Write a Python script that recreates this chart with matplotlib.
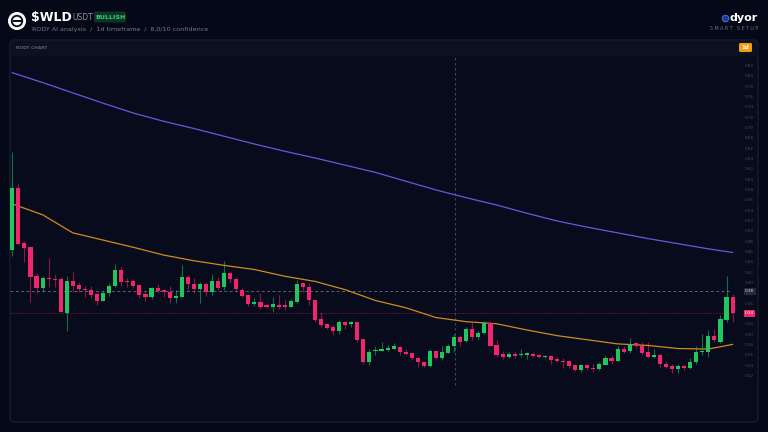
import numpy as np
import matplotlib.pyplot as plt
from matplotlib.patches import FancyBboxPatch, Circle, Rectangle

# ---- data (daily candles, WLD/USDT) ----
opens = [0.464, 0.583, 0.477, 0.469, 0.413, 0.390, 0.410, 0.408, 0.407, 0.342,
         0.404, 0.396, 0.389, 0.387, 0.379, 0.366, 0.380, 0.394, 0.426, 0.404,
         0.403, 0.396, 0.379, 0.373, 0.390, 0.386, 0.382, 0.371, 0.373, 0.412,
         0.398, 0.388, 0.398, 0.382, 0.403, 0.392, 0.419, 0.408, 0.387, 0.376,
         0.359, 0.363, 0.357, 0.354, 0.357, 0.356, 0.354, 0.363, 0.399, 0.393,
         0.367, 0.330, 0.321, 0.315, 0.306, 0.324, 0.320, 0.324, 0.291, 0.247,
         0.268, 0.269, 0.270, 0.273, 0.276, 0.266, 0.264, 0.255, 0.246, 0.240,
         0.269, 0.254, 0.265, 0.277, 0.296, 0.287, 0.310, 0.295, 0.303, 0.323,
         0.279, 0.262, 0.256, 0.263, 0.260, 0.261, 0.263, 0.261, 0.256, 0.259,
         0.253, 0.249, 0.248, 0.241, 0.231, 0.241, 0.235, 0.234, 0.242, 0.255,
         0.249, 0.272, 0.268, 0.283, 0.277, 0.266, 0.257, 0.261, 0.244, 0.239,
         0.233, 0.240, 0.235, 0.246, 0.266, 0.267, 0.298, 0.286, 0.328, 0.373]
highs = [0.653, 0.594, 0.481, 0.470, 0.419, 0.413, 0.449, 0.417, 0.412, 0.413,
         0.422, 0.402, 0.394, 0.394, 0.383, 0.384, 0.399, 0.437, 0.431, 0.409,
         0.407, 0.398, 0.383, 0.393, 0.398, 0.389, 0.394, 0.386, 0.435, 0.415,
         0.409, 0.402, 0.402, 0.417, 0.411, 0.443, 0.422, 0.411, 0.390, 0.379,
         0.371, 0.380, 0.361, 0.373, 0.377, 0.367, 0.368, 0.406, 0.402, 0.399,
         0.367, 0.343, 0.323, 0.319, 0.328, 0.327, 0.327, 0.324, 0.293, 0.272,
         0.277, 0.286, 0.280, 0.283, 0.278, 0.273, 0.265, 0.257, 0.248, 0.273,
         0.270, 0.277, 0.282, 0.301, 0.299, 0.314, 0.325, 0.306, 0.326, 0.325,
         0.290, 0.269, 0.267, 0.267, 0.272, 0.267, 0.267, 0.262, 0.261, 0.261,
         0.256, 0.254, 0.251, 0.243, 0.243, 0.243, 0.243, 0.246, 0.261, 0.261,
         0.277, 0.277, 0.294, 0.285, 0.286, 0.286, 0.272, 0.264, 0.248, 0.244,
         0.243, 0.244, 0.254, 0.278, 0.302, 0.309, 0.310, 0.338, 0.413, 0.379]
lows = [0.452, 0.473, 0.441, 0.363, 0.380, 0.383, 0.393, 0.393, 0.344, 0.306,
        0.383, 0.383, 0.373, 0.370, 0.357, 0.365, 0.375, 0.393, 0.395, 0.393,
        0.390, 0.370, 0.365, 0.369, 0.381, 0.373, 0.361, 0.362, 0.373, 0.386,
        0.380, 0.361, 0.375, 0.377, 0.386, 0.386, 0.400, 0.383, 0.373, 0.355,
        0.356, 0.349, 0.352, 0.344, 0.349, 0.348, 0.353, 0.362, 0.383, 0.357,
        0.325, 0.315, 0.310, 0.299, 0.302, 0.310, 0.314, 0.286, 0.244, 0.241,
        0.261, 0.269, 0.269, 0.272, 0.260, 0.261, 0.251, 0.238, 0.238, 0.237,
        0.252, 0.251, 0.264, 0.267, 0.278, 0.286, 0.290, 0.291, 0.301, 0.277,
        0.257, 0.252, 0.254, 0.255, 0.257, 0.253, 0.257, 0.254, 0.255, 0.244,
        0.246, 0.235, 0.235, 0.230, 0.228, 0.231, 0.228, 0.231, 0.241, 0.244,
        0.248, 0.264, 0.264, 0.275, 0.261, 0.254, 0.254, 0.238, 0.235, 0.225,
        0.226, 0.231, 0.234, 0.244, 0.261, 0.257, 0.286, 0.283, 0.325, 0.325]
closes = [0.583, 0.475, 0.468, 0.412, 0.390, 0.410, 0.408, 0.406, 0.344, 0.404,
          0.395, 0.388, 0.386, 0.377, 0.366, 0.381, 0.395, 0.426, 0.402, 0.402,
          0.395, 0.377, 0.373, 0.390, 0.385, 0.382, 0.371, 0.375, 0.411, 0.398,
          0.388, 0.398, 0.382, 0.403, 0.391, 0.419, 0.407, 0.388, 0.375, 0.359,
          0.363, 0.354, 0.354, 0.359, 0.354, 0.354, 0.365, 0.398, 0.393, 0.367,
          0.328, 0.319, 0.313, 0.306, 0.324, 0.319, 0.324, 0.290, 0.246, 0.267,
          0.270, 0.270, 0.275, 0.277, 0.266, 0.262, 0.255, 0.247, 0.240, 0.269,
          0.254, 0.266, 0.277, 0.296, 0.286, 0.310, 0.295, 0.303, 0.323, 0.278,
          0.261, 0.256, 0.262, 0.259, 0.262, 0.262, 0.259, 0.256, 0.259, 0.251,
          0.249, 0.246, 0.240, 0.231, 0.241, 0.235, 0.233, 0.243, 0.255, 0.249,
          0.272, 0.267, 0.281, 0.277, 0.264, 0.257, 0.261, 0.243, 0.238, 0.233,
          0.240, 0.235, 0.247, 0.267, 0.269, 0.298, 0.290, 0.330, 0.373, 0.341]

# moving averages
ma_fast_idx = [0, 5, 10, 15, 20, 25, 30, 35, 40, 45, 50, 55, 60, 65, 70, 75,
               80, 85, 90, 95, 100, 105, 110, 115, 119]
ma_fast = [0.553, 0.532, 0.497, 0.483, 0.469, 0.454, 0.443, 0.434, 0.426, 0.413,
           0.403, 0.387, 0.366, 0.352, 0.333, 0.325, 0.321, 0.309, 0.298, 0.290,
           0.282, 0.279, 0.273, 0.272, 0.281]
ma_slow_idx = [0, 5, 10, 15, 20, 25, 30, 35, 40, 45, 50, 55, 60, 65, 70, 75,
               80, 85, 90, 95, 100, 105, 110, 115, 119]
ma_slow = [0.807, 0.788, 0.768, 0.748, 0.729, 0.713, 0.699, 0.684, 0.669, 0.655,
           0.642, 0.628, 0.614, 0.597, 0.580, 0.565, 0.551, 0.535, 0.520, 0.508,
           0.497, 0.486, 0.476, 0.466, 0.459]

ref_level = 0.384          # grey dashed level
price_ticks = np.round(np.arange(0.22, 0.821, 0.02), 2)

# ---- colours ----
BG = '#050817'
CARD = '#070b1c'
GREEN = '#22c55e'
RED = '#f0266b'

W, H = 768, 432


def px(x, y, w, h):
    # pixel box (top-left origin) -> figure fraction rect
    return [x / W, 1 - (y + h) / H, w / W, h / H]


fig = plt.figure(figsize=(7.68, 4.32), dpi=100, facecolor=BG)

# card + header drawn in pixel space
bg_ax = fig.add_axes([0, 0, 1, 1])
bg_ax.set_xlim(0, W)
bg_ax.set_ylim(H, 0)
bg_ax.axis('off')
bg_ax.add_patch(FancyBboxPatch((10, 40), 748, 382, boxstyle='round,pad=0,rounding_size=4',
                               facecolor=CARD, edgecolor='#1a2034', linewidth=0.8))
bg_ax.add_patch(Rectangle((10.5, 40.5), 747, 15, facecolor='#0c1122', edgecolor='none'))
bg_ax.text(16, 48, 'RODY CHART', color='#5a6072', fontsize=3.2, fontweight='bold',
           va='center', ha='left')
bg_ax.add_patch(FancyBboxPatch((739, 43), 13, 9, boxstyle='round,pad=0,rounding_size=1.5',
                               facecolor='#f59e0b', edgecolor='none'))
bg_ax.text(745.5, 47.6, '1d', color='white', fontsize=4, fontweight='bold',
           ha='center', va='center')

# logo + title
bg_ax.add_patch(Circle((17, 21), 9, facecolor='white', edgecolor='none'))
bg_ax.add_patch(Circle((17, 21), 6.2, facecolor='#0b0f1f', edgecolor='none'))
bg_ax.add_patch(Circle((17, 21), 4.3, facecolor='white', edgecolor='none'))
bg_ax.add_patch(Rectangle((12.5, 20), 9, 2, facecolor='#0b0f1f', edgecolor='none'))
bg_ax.text(31, 17.5, '$WLD', color='white', fontsize=9, fontweight='bold',
           ha='left', va='center')
bg_ax.text(72, 18, 'USDT', color='#8a90a2', fontsize=5.5, ha='left', va='center')
bg_ax.add_patch(FancyBboxPatch((94, 11.5), 32, 11, boxstyle='round,pad=0,rounding_size=2',
                               facecolor='#0f3326', edgecolor='none'))
bg_ax.text(110, 17.3, 'BULLISH', color='#34d37a', fontsize=4.5, fontweight='bold',
           ha='center', va='center')
bg_ax.text(32, 29.5, 'RODY AI analysis  /  1d timeframe  /  8.0/10 confidence',
           color='#737a8e', fontsize=4.6, ha='left', va='center')
bg_ax.text(758, 18, 'dyor', color='white', fontsize=8, fontweight='bold',
           ha='right', va='center')
bg_ax.add_patch(Circle((725.5, 18.5), 3.3, facecolor='#1e3a8a', edgecolor='#3b82f6', linewidth=0.6))
bg_ax.text(758, 28, 'S M A R T   S E T U P', color='#6b7285', fontsize=3.4,
           ha='right', va='center')

# ---- price chart ----
ax = fig.add_axes(px(10, 56, 748, 365))
ax.set_facecolor('none')
ax.set_xlim(-0.38, 123.2)
ax.set_ylim(0.1327, 0.8394)
for s in ax.spines.values():
    s.set_visible(False)
ax.set_xticks([])
ax.set_yticks([])

o = np.array(opens)
h = np.array(highs)
l = np.array(lows)
c = np.array(closes)
idx = np.arange(len(o))
up = c >= o
cols = np.where(up, GREEN, RED)

ax.vlines(idx, l, h, colors=cols, linewidth=0.8, alpha=0.55, zorder=2)
body_lo = np.minimum(o, c)
body_h = np.maximum(np.abs(c - o), 0.0025)
ax.bar(idx, body_h, bottom=body_lo, width=0.68, color=cols, edgecolor='none', zorder=3)

ax.plot(ma_slow_idx, ma_slow, color='#6f55dc', linewidth=0.9, zorder=2)
ax.plot(ma_fast_idx, ma_fast, color='#d08a1e', linewidth=0.9, zorder=2)

# reference lines
last = closes[-1]
ax.axhline(ref_level, xmax=0.965, color='#5b6175', linewidth=0.7, linestyle=(0, (3, 2.5)), zorder=1)
ax.axhline(last, xmax=0.965, color='#6a1a38', linewidth=0.7, linestyle=(0, (1.5, 1.5)), zorder=1)
ax.axvline(73.2, ymin=0.1, ymax=0.997, color='#4d5368', linewidth=0.6,
           linestyle=(0, (3, 3)), zorder=1)

# price labels on the right (skip the ones hidden by the boxes)
for t in price_ticks:
    if abs(t - ref_level) < 0.012 or abs(t - last) < 0.012:
        continue
    ax.text(121.8, t, f'{t:.2f}', color='#454b60', fontsize=3, ha='center', va='center')
ax.text(121.8, ref_level, f'{ref_level:.2f}', color='#d8dbe4', fontsize=3, ha='center',
        va='center', bbox=dict(boxstyle='square,pad=0.35', facecolor='#262b3b', edgecolor='none'),
        zorder=5)
ax.text(121.8, last, f'{last:.2f}', color='white', fontsize=3, ha='center', va='center',
        bbox=dict(boxstyle='square,pad=0.35', facecolor=RED, edgecolor='none'), zorder=5)

fig.savefig('out.png', dpi=100, facecolor=BG)
